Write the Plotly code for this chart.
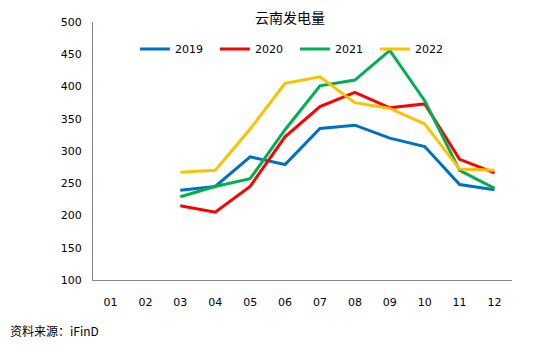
import plotly.graph_objects as go

months = ["01", "02", "03", "04", "05", "06", "07", "08", "09", "10", "11", "12"]
v2019 = [None, None, 239, 245, 291, 279, 335, 340, 320, 307, 248, 240]
v2020 = [None, None, 215, 205, 245, 322, 369, 391, 367, 373, 287, 266]
v2021 = [None, None, 229, 245, 257, 333, 401, 410, 456, 378, 270, 242]
v2022 = [None, None, 267, 270, 334, 405, 415, 375, 366, 342, 272, 270]

series = [("2019", v2019, "#0070C0"), ("2020", v2020, "#FF0000"),
          ("2021", v2021, "#00B050"), ("2022", v2022, "#FFC000")]

fig = go.Figure()
for name, vals, color in series:
    fig.add_trace(go.Scatter(x=months, y=vals, name=name, mode="lines",
                             line=dict(color=color, width=3)))

fig.update_layout(
    width=547, height=350,
    margin=dict(l=93, r=35, t=22, b=70),
    plot_bgcolor="white", paper_bgcolor="white",
    font=dict(family="DejaVu Sans", size=11, color="#000000"),
    title=dict(text="云南发电量", x=0.53, xref="container", xanchor="center",
               y=1 - 18 / 350, yref="container", yanchor="middle",
               font=dict(family="Noto Sans CJK SC", size=14, color="#000000")),
    legend=dict(orientation="h", x=0.1, y=0.895, xanchor="left", yanchor="middle",
                entrywidth=35, entrywidthmode="pixels", bgcolor="rgba(0,0,0,0)",
                font=dict(family="DejaVu Sans", size=11)),
    showlegend=True,
    xaxis=dict(type="category", categoryorder="array", categoryarray=months,
               range=[-0.5, 11.5], showline=True, linecolor="#868686", linewidth=1,
               showgrid=False, ticks="", ticklabelstandoff=12, zeroline=False),
    yaxis=dict(range=[100, 500], dtick=50, showline=True, linecolor="#868686",
               linewidth=1, showgrid=False, ticks="", ticklabelstandoff=8,
               zeroline=False),
)

fig.add_annotation(text="资料来源：iFinD", xref="paper", yref="paper",
                   x=-85 / 419, y=(280 - 330) / 258, xanchor="left", yanchor="middle",
                   showarrow=False,
                   font=dict(family="Noto Sans CJK SC", size=12, color="#000000"))

fig.write_html("out.html")
